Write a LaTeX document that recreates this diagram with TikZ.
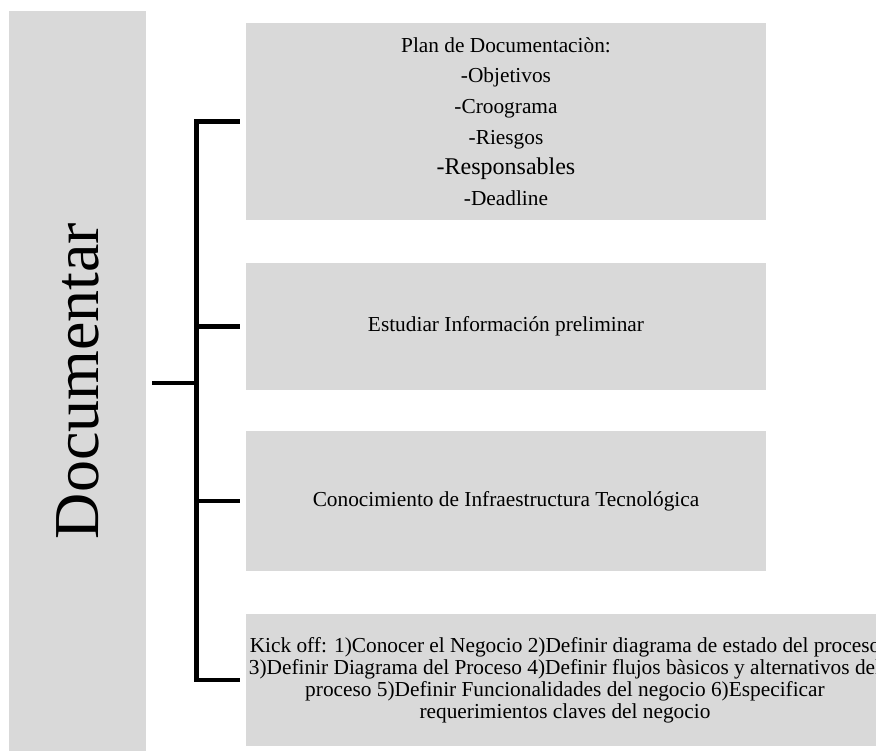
\documentclass[tikz,border=0pt]{standalone}
\usepackage{fontspec}
\setmainfont{Liberation Serif}
\usetikzlibrary{positioning}
\definecolor{Cbox}{RGB}{217,217,217}
\tikzset{
  G/.style={fill=Cbox, inner sep=0pt, align=center},
  S/.style n args={1}{
    fill=Cbox, minimum width=390pt, minimum height=#1,
    inner sep=0pt, align=center, font=\fontsize{16}{23}\selectfont
  },
  K/.style={
    fill=Cbox, minimum width=478.5pt, minimum height=99pt,
    inner sep=0pt, align=center, font=\fontsize{16}{16.5}\selectfont
  },
  br/.style={line width=3.25pt, color=black}
}
\begin{document}
\begin{tikzpicture}[x=0.75pt, y=-0.75pt]
\useasboundingbox (0,0) rectangle (876,751);

% ------------------------------------------------------------
%  left column
% ------------------------------------------------------------
\node[G, minimum width=102.75pt, minimum height=555pt] (doc) at (77.5,381)
  {\rotatebox{90}{\fontsize{48}{50}\selectfont Documentar}};

% ------------------------------------------------------------
%  steps
% ------------------------------------------------------------
\node[S={147.75pt}] (plan) at (506,121.5)
  {Plan de Documentaciòn:\\-Objetivos\\-Croograma\\-Riesgos\\
   {\fontsize{18}{23}\selectfont -Responsables}\\-Deadline};
\node[S={95.25pt}] (info)  at (506,326.5) {Estudiar Información preliminar};
\node[S={105pt}]   (infra) at (506,501)   {Conocimiento de Infraestructura Tecnológica};
\node[K] (kick) at (565,680)
  {Kick off: 1)Conocer el Negocio 2)Definir diagrama de estado del proceso\\
   3)Definir Diagrama del Proceso 4)Definir flujos bàsicos y alternativos del\\
   proceso 5)Definir Funcionalidades del negocio 6)Especificar\\
   requerimientos claves del negocio};

% ------------------------------------------------------------
%  bracket
% ------------------------------------------------------------
\coordinate (hub) at (196.5,383);

\draw[br, shorten <=4.5pt] (doc.east |- hub) -- (hub);
\draw[br, shorten <=4.5pt, shorten >=4.5pt]
  (plan.west) -- (hub |- plan.west) -- (hub |- kick.west) -- (kick.west);
\draw[br, shorten >=4.5pt] (hub |- info.west)  -- (info.west);
\draw[br, shorten >=4.5pt] (hub |- infra.west) -- (infra.west);

\end{tikzpicture}
\end{document}
